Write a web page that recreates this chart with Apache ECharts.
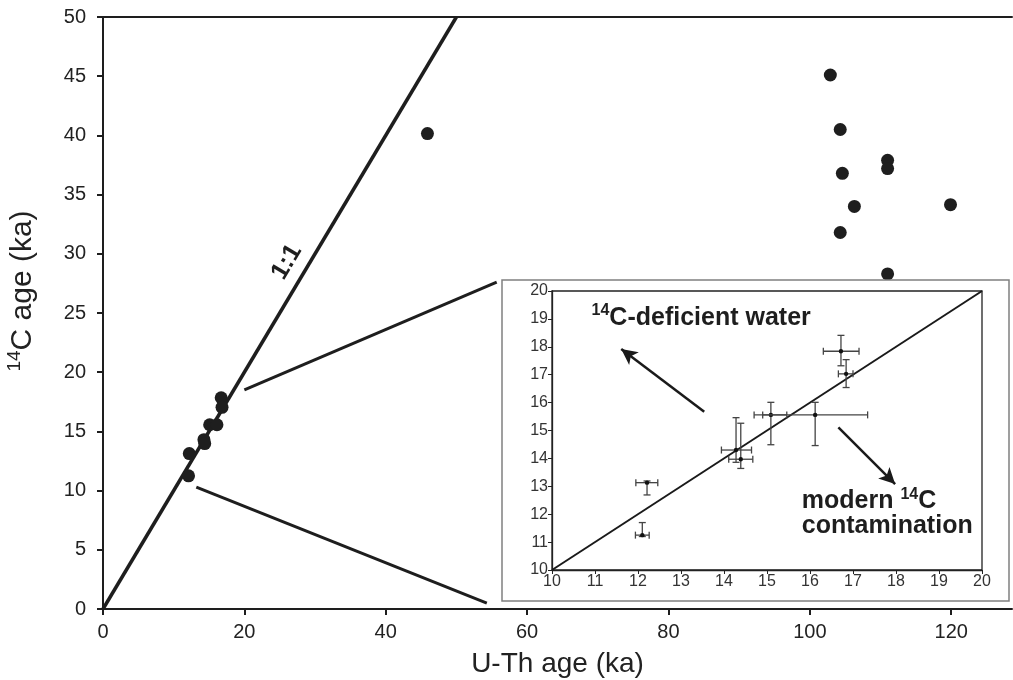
<!DOCTYPE html>
<html>
<head>
<meta charset="utf-8">
<script src="https://cdn.jsdelivr.net/npm/echarts@6/dist/echarts.min.js"></script>
<style>html,body{margin:0;padding:0;background:#fff}#c{width:1013px;height:680px}</style>
</head>
<body>
<div id="c"></div>
<script>
// ---- Main panel data (U-Th age vs 14C age, ka) ----
const mainUTh = [45.9, 102.9, 104.3, 104.6, 106.3, 104.3, 111.0, 111.0, 111.0, 119.9];
const main14C = [40.15, 45.1, 40.5, 36.8, 34.0, 31.8, 37.9, 37.2, 28.3, 34.15];

// ---- Inset data (young samples with 2-sided errors) ----
const insetUTh    = [12.10, 12.21, 14.28, 14.39, 15.09, 16.12, 16.72, 16.84];
const insetUThLo  = [11.94, 11.95, 13.94, 14.11, 14.70, 14.90, 16.31, 16.66];
const insetUThHi  = [12.26, 12.46, 14.64, 14.67, 15.46, 17.34, 17.14, 17.00];
const inset14C    = [11.25, 13.13, 14.30, 13.97, 15.56, 15.56, 17.84, 17.03];
const inset14CLo  = [11.20, 12.69, 13.86, 13.64, 14.49, 14.46, 17.32, 16.54];
const inset14CHi  = [11.70, 13.19, 15.46, 15.26, 16.01, 16.01, 18.41, 17.54];

// ---- Axis ticks ----
const mainXTicks = [0, 20, 40, 60, 80, 100, 120];
const mainYTicks = [0, 5, 10, 15, 20, 25, 30, 35, 40, 45, 50];
const insetTicks = [10, 11, 12, 13, 14, 15, 16, 17, 18, 19, 20];

// ---- Reference lines / callouts (data coordinates) ----
const oneToOneMain = [[0, 0], [50, 50]];
const oneToOneInset = [[10, 10], [20, 20]];
const calloutUpper = [[20.0, 18.5], [55.7, 27.6]];
const calloutLower = [[13.2, 10.3], [54.3, 0.5]];
const arrowDeficient = [[13.54, 15.67], [11.61, 17.92]];
const arrowModern = [[16.66, 15.11], [17.98, 13.08]];
const oneToOneLabelPos = [26.0, 29.3];
const insetNotes = [
  { pos: [10.92, 19.03], text: '{sup|14}C-deficient water' },
  { pos: [15.81, 12.46], text: 'modern {sup|14}C' },
  { pos: [15.81, 11.56], text: 'contamination' }
];

const INK = '#1e1e1e';
const FONT = 'Liberation Sans, Arial, Helvetica, sans-serif';

const mainPts = mainUTh.map((x, i) => [x, main14C[i]]).concat(insetUTh.map((x, i) => [x, inset14C[i]]));
const errData = insetUTh.map((x, i) => [x, inset14C[i], insetUThLo[i], insetUThHi[i], inset14CLo[i], inset14CHi[i]]);

const chart = echarts.init(document.getElementById('c'), null, { renderer: 'canvas' });

const option = {
  backgroundColor: '#fff',
  animation: false,
  textStyle: { fontFamily: FONT },
  grid: [
    { left: 103, right: 1, top: 17, bottom: 71, show: false, containLabel: false, outerBoundsMode: 'none' },
    { left: 552, top: 291, width: 430, height: 279, show: true, borderColor: '#222', borderWidth: 1.3, backgroundColor: 'transparent', z: 4, outerBoundsMode: 'none' },
    { left: 502, top: 280, width: 507, height: 321, show: true, borderColor: '#808080', borderWidth: 1.5, backgroundColor: '#fff', z: 3, outerBoundsMode: 'none' }
  ],
  xAxis: [
    {
      gridIndex: 0, type: 'value', min: 0, max: 128.6, interval: 20,
      axisLine: { show: true, onZero: false, lineStyle: { color: INK, width: 2 } },
      axisTick: { show: true, inside: false, length: 6, lineStyle: { color: INK, width: 2 } },
      axisLabel: { color: '#222', fontSize: 20, margin: 13, showMaxLabel: false, fontFamily: FONT,
        formatter: v => mainXTicks.includes(v) ? String(v) : '' },
      splitLine: { show: false },
      name: 'U-Th age (ka)', nameLocation: 'middle', nameGap: 41,
      nameTextStyle: { fontSize: 28, color: '#222', fontFamily: FONT }
    },
    {
      gridIndex: 0, type: 'value', position: 'top', min: 0, max: 128.6,
      axisLine: { show: true, onZero: false, lineStyle: { color: INK, width: 2 } },
      axisTick: { show: false }, axisLabel: { show: false }, splitLine: { show: false }
    },
    {
      gridIndex: 1, type: 'value', min: 10, max: 20, interval: 1, z: 5,
      axisLine: { show: true, onZero: false, lineStyle: { color: '#222', width: 1.3 } },
      axisTick: { show: true, length: 4, lineStyle: { color: '#222' } },
      axisLabel: { color: '#333', fontSize: 16, margin: 4, fontFamily: FONT,
        formatter: v => insetTicks.includes(v) ? String(v) : '' },
      splitLine: { show: false }
    },
    { gridIndex: 2, type: 'value', show: false, min: 0, max: 1 }
  ],
  yAxis: [
    {
      gridIndex: 0, type: 'value', min: 0, max: 50, interval: 5,
      axisLine: { show: true, onZero: false, lineStyle: { color: INK, width: 2 } },
      axisTick: { show: true, length: 6, lineStyle: { color: INK, width: 2 } },
      axisLabel: { color: '#222', fontSize: 20, margin: 17, fontFamily: FONT,
        formatter: v => mainYTicks.includes(v) ? String(v) : '' },
      splitLine: { show: false },
      name: '{sup|14}C age (ka)', nameLocation: 'middle', nameGap: 62,
      nameTextStyle: { fontSize: 30, color: '#222', fontFamily: FONT, lineHeight: 36, padding: [0, 0, 0, 44],
        rich: { sup: { fontSize: 19, verticalAlign: 'top', lineHeight: 36, color: '#222', fontFamily: FONT, padding: [0, 0, 12, 0] } } }
    },
    {
      gridIndex: 1, type: 'value', min: 10, max: 20, interval: 1, z: 5,
      axisLine: { show: true, onZero: false, lineStyle: { color: '#222', width: 1.3 } },
      axisTick: { show: true, length: 4, lineStyle: { color: '#222' } },
      axisLabel: { color: '#333', fontSize: 16, margin: 4, fontFamily: FONT,
        formatter: v => insetTicks.includes(v) ? String(v) : '' },
      splitLine: { show: false }
    },
    { gridIndex: 2, type: 'value', show: false, min: 0, max: 1 }
  ],
  series: [
    // main 1:1 line
    { type: 'line', xAxisIndex: 0, yAxisIndex: 0, data: oneToOneMain, showSymbol: false, symbol: 'none',
      lineStyle: { color: INK, width: 3.5 }, z: 2, silent: true },
    // callout lines
    { type: 'line', xAxisIndex: 0, yAxisIndex: 0, data: calloutUpper, symbol: 'none',
      lineStyle: { color: INK, width: 3 }, z: 2, silent: true },
    { type: 'line', xAxisIndex: 0, yAxisIndex: 0, data: calloutLower, symbol: 'none',
      lineStyle: { color: INK, width: 3 }, z: 2, silent: true },
    // 1:1 label
    { type: 'scatter', xAxisIndex: 0, yAxisIndex: 0, data: [oneToOneLabelPos], symbolSize: 0, z: 2, silent: true,
      itemStyle: { opacity: 1 },
      label: { show: true, position: 'inside', formatter: '1:1', rotate: 59, fontSize: 25, fontWeight: 'bold',
        color: INK, fontFamily: FONT, textBorderWidth: 0 } },
    // main points
    { type: 'scatter', xAxisIndex: 0, yAxisIndex: 0, data: mainPts, symbol: 'circle', symbolSize: 13,
      itemStyle: { color: INK, opacity: 1 }, z: 2 },
    // inset 1:1 line + arrows
    { type: 'line', xAxisIndex: 2, yAxisIndex: 1, data: oneToOneInset, symbol: 'none',
      lineStyle: { color: '#1a1a1a', width: 2 }, z: 6, silent: true,
      markLine: {
        silent: true, symbol: ['none', 'arrow'], symbolSize: [12, 16], label: { show: false },
        lineStyle: { color: '#1a1a1a', width: 2.5, type: 'solid' }, z: 6,
        data: [
          [{ coord: arrowDeficient[0] }, { coord: arrowDeficient[1] }],
          [{ coord: arrowModern[0] }, { coord: arrowModern[1] }]
        ]
      } },
    // inset error bars
    { type: 'custom', xAxisIndex: 2, yAxisIndex: 1, data: errData, z: 7, silent: true,
      renderItem: function (params, api) {
        const c = api.coord([api.value(0), api.value(1)]);
        const xl = api.coord([api.value(2), api.value(1)]);
        const xh = api.coord([api.value(3), api.value(1)]);
        const yl = api.coord([api.value(0), api.value(4)]);
        const yh = api.coord([api.value(0), api.value(5)]);
        const cap = 3.5;
        const st = { stroke: '#444', lineWidth: 1.3, fill: null };
        return { type: 'group', children: [
          { type: 'line', shape: { x1: xl[0], y1: c[1], x2: xh[0], y2: c[1] }, style: st },
          { type: 'line', shape: { x1: xl[0], y1: c[1] - cap, x2: xl[0], y2: c[1] + cap }, style: st },
          { type: 'line', shape: { x1: xh[0], y1: c[1] - cap, x2: xh[0], y2: c[1] + cap }, style: st },
          { type: 'line', shape: { x1: c[0], y1: yl[1], x2: c[0], y2: yh[1] }, style: st },
          { type: 'line', shape: { x1: c[0] - cap, y1: yl[1], x2: c[0] + cap, y2: yl[1] }, style: st },
          { type: 'line', shape: { x1: c[0] - cap, y1: yh[1], x2: c[0] + cap, y2: yh[1] }, style: st },
          { type: 'circle', shape: { cx: c[0], cy: c[1], r: 2.2 }, style: { fill: '#111' } }
        ] };
      } },
    // inset annotations
    { type: 'scatter', xAxisIndex: 2, yAxisIndex: 1, symbolSize: 0, z: 8, silent: true,
      itemStyle: { opacity: 1 },
      data: insetNotes.map(n => ({ value: n.pos, name: n.text })),
      label: { show: true, position: 'inside', align: 'left', verticalAlign: 'middle',
        formatter: p => p.name, fontSize: 25, fontWeight: 'bold', color: '#1e1e1e', fontFamily: FONT, lineHeight: 30,
        textBorderWidth: 0,
        rich: { sup: { fontSize: 16, fontWeight: 'bold', verticalAlign: 'top', lineHeight: 30, color: '#1e1e1e', fontFamily: FONT, padding: [0, 0, 10, 0] } } } }
  ]
};
chart.setOption(option);
</script>
</body>
</html>
